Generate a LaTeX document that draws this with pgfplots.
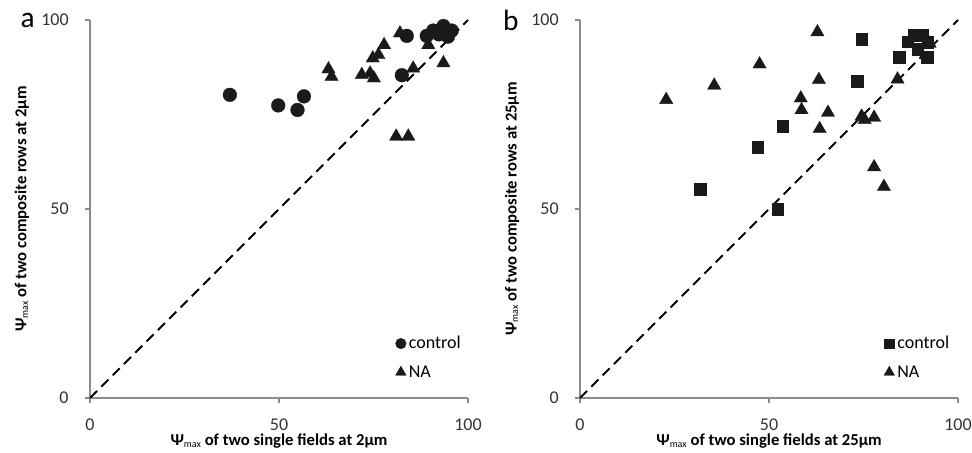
\documentclass[border=0pt]{standalone}
\usepackage{fontspec}
\setmainfont{Carlito}
\usepackage{pgfplots}
\pgfplotsset{compat=1.18}
\definecolor{axgray}{HTML}{8C8C8C}
\definecolor{mk}{HTML}{1A1A1A}
\newcommand\psimax{Ψ\raisebox{-0.2ex}{\fontsize{7.5pt}{8pt}\selectfont\mdseries max}}
\pgfplotsset{
  myaxis/.style={
    width=283.5pt, height=283.5pt, scale only axis,
    xmin=0, xmax=100, ymin=0, ymax=100,
    clip=false,
    axis lines=left,
    axis line style={draw=axgray, line width=1.1pt, -},
    xtick={0,50,100}, ytick={0,50,100},
    xticklabels={0,50,100}, yticklabels={0,50,100},
    tick style={draw=axgray, line width=0.9pt},
    tick align=outside, major tick length=3.5pt,
    tick label style={font=\fontsize{13.5}{15}\selectfont, text=black!80},
    xticklabel style={yshift=-8.5pt},
    yticklabel style={xshift=-9pt},
    label style={font=\fontsize{12.5}{15}\selectfont\bfseries},
    xlabel style={at={(axis description cs:0.5,-0.115)}, anchor=center},
    ylabel style={at={(axis description cs:-0.18,0.5)}, anchor=center},
    legend style={draw=none, fill=none, font=\fontsize{13.5}{15}\selectfont,
      row sep=7pt, legend cell align=left,
      /tikz/every even column/.append style={column sep=4pt}},
    legend cell align=left,
  },
  circ/.style={only marks, mark=*, mark size=5.2pt, mark options={fill=mk, draw=mk, line width=0.2pt},
    legend image post style={mark size=4pt}},
  tri/.style={only marks, mark=triangle*, mark size=5.8pt, mark options={fill=mk, draw=mk, line width=0.2pt}},
  trileg/.style={legend image post style={mark size=4.6pt}},
  sq/.style={only marks, mark=square*, mark size=4.4pt, mark options={fill=mk, draw=mk, line width=0.2pt},
    legend image post style={mark size=3.6pt}},
  diag/.style={black, line width=1.5pt, dash pattern=on 7.5pt off 4.5pt, forget plot},
}
\begin{document}
\begin{tikzpicture}
\useasboundingbox (-67.5pt,-41.25pt) rectangle (661.5pt,298.5pt);
\begin{axis}[myaxis, at={(0pt,0pt)}, anchor=origin,
  xlabel={\psimax\ of two single fields at 2µm},
  ylabel={\psimax\ of two composite rows at 2µm},
  legend style={at={(axis description cs:0.797,0.178)}, anchor=north west}]
\addplot[diag] coordinates {(0,0) (100,100)};
\addplot[circ] coordinates {
(37.0,80.2) (49.8,77.4) (54.9,76.2) (56.6,79.8) (82.5,85.4) (83.8,95.8)
(89.1,95.8) (90.8,97.2) (93.5,98.4) (95.7,97.2) (94.7,95.6) (92.3,96.2)};
\addlegendentry{control}
\addplot[tri, trileg] coordinates {
(63.1,87.0) (63.9,85.0) (71.9,85.5) (74.1,85.9) (75.1,84.6) (74.8,89.9)
(76.3,90.8) (77.8,93.4) (82.0,96.5) (85.5,87.2) (89.5,93.4) (93.5,88.6)
(81.0,69.2) (84.2,69.2)};
\addlegendentry{NA}
\node[font=\fontsize{22}{24}\selectfont, anchor=center] at (axis description cs:-0.165,1.0) {a};
\end{axis}
\begin{axis}[myaxis, at={(367.5pt,0pt)}, anchor=origin,
  xlabel={\psimax\ of two single fields at 25µm},
  ylabel={\psimax\ of two composite rows at 25µm},
  legend style={at={(axis description cs:0.793,0.178)}, anchor=north west}]
\addplot[diag] coordinates {(0,0) (100,100)};
\addplot[sq] coordinates {
(31.8,55.3) (47.0,66.4) (53.6,71.9) (52.3,50.0) (74.5,95.0) (73.4,83.9)
(84.4,90.1) (91.8,90.1) (86.7,94.3) (88.4,96.0) (90.6,96.0) (89.3,92.2) (92.0,94.1)};
\addlegendentry{control}
\addplot[tri, trileg] coordinates {
(22.8,78.9) (35.5,82.7) (47.5,88.3) (62.8,96.8) (63.2,84.2) (58.4,79.3)
(58.6,76.2) (65.6,75.5) (63.4,71.2) (74.5,74.5) (75.3,73.6) (77.8,74.2)
(77.8,61.1) (80.4,55.9) (84.0,84.3) (92.5,93.8)};
\addlegendentry{NA}
\node[font=\fontsize{22}{24}\selectfont, anchor=center] at (axis description cs:-0.183,1.0) {b};
\end{axis}
\end{tikzpicture}
\end{document}
